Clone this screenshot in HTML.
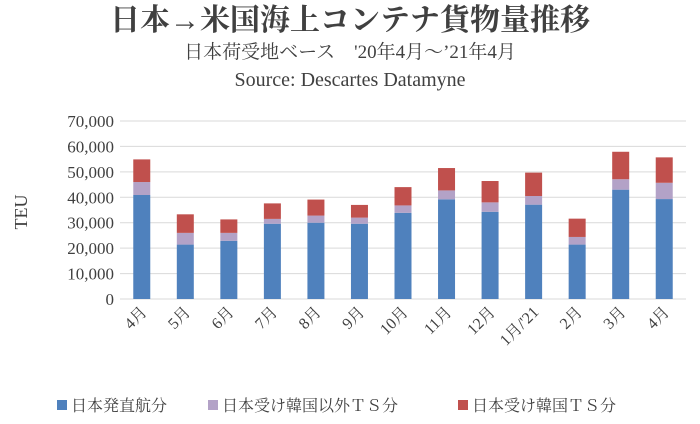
<!DOCTYPE html>
<html><head><meta charset="utf-8"><style>
body{margin:0;background:#fff;width:700px;height:419px;overflow:hidden}
text{font-family:"Liberation Serif","Noto Serif CJK SC",serif;fill:#404040}
</style></head><body>
<svg id="c" width="700" height="419">
<text x="350" y="30" text-anchor="middle" font-size="30" font-weight="bold" style="fill:#404040">日本→米国海上コンテナ貨物量推移</text>
<text x="350" y="58" text-anchor="middle" font-size="19">日本荷受地ベース　'20年4月～’21年4月</text>
<text x="350" y="86" text-anchor="middle" font-size="20">Source: Descartes Datamyne</text>
<text transform="translate(27,212) rotate(-90)" text-anchor="middle" font-size="18">TEU</text>
<g id="grid"></g><g id="bars"></g><g id="xl"></g>
<g>
<rect x="57" y="400" width="10" height="10" fill="#4f81bd"/>
<text x="71" y="411" font-size="16">日本発直航分</text>
<rect x="208" y="400" width="10" height="10" fill="#b3a2c7"/>
<text x="222" y="411" font-size="16">日本受け韓国以外ＴＳ分</text>
<rect x="458" y="400" width="10" height="10" fill="#c0504d"/>
<text x="472" y="411" font-size="16">日本受け韓国ＴＳ分</text>
</g>
</svg>
<script>
const categories=["4月","5月","6月","7月","8月","9月","10月","11月","12月","1月/'21","2月","3月","4月"];
const direct=[40900,21400,22900,29600,30000,29600,33900,39200,34300,37100,21400,43000,39300];
const otherTS=[5100,4600,3100,1900,2800,2400,2900,3500,3700,3400,3000,4100,6400];
const koreaTS=[8900,7300,5300,6100,6300,5000,7200,8800,8400,9200,7200,10800,10000];
const yTicks=[0,10000,20000,30000,40000,50000,60000,70000];
const NS="http://www.w3.org/2000/svg";
const x0=120,x1=686,y0=299,y1=121,yMax=70000;
const y=v=>y0-(v/yMax)*(y0-y1);
const bw=(x1-x0)/categories.length;
const xc=i=>x0+bw*(i+0.5);
function mk(t,a,p){const e=document.createElementNS(NS,t);for(const k in a)e.setAttribute(k,a[k]);p.appendChild(e);return e;}
const g=document.getElementById('grid');
yTicks.forEach(v=>{
 const l=mk('line',{x1:x0,x2:x1,y1:y(v),y2:y(v),stroke:'#d9d9d9','stroke-width':1},g);
 
 
 const t=mk('text',{x:114,y:y(v)+6,'text-anchor':'end','font-size':17},g);
 t.textContent=v.toLocaleString('en-US');
 
 
});
const b=document.getElementById('bars'),xl=document.getElementById('xl');
const series=[[direct,'#4f81bd','direct'],[otherTS,'#b3a2c7','non-korea-ts'],[koreaTS,'#c0504d','korea-ts']];
categories.forEach((c,i)=>{
 let base=0;
 series.forEach(([arr,col,nm])=>{
  const v=arr[i];
  const r=mk('rect',{x:xc(i)-8.5,width:17,y:y(base+v),height:y(base)-y(base+v),fill:col},b);
  
  
  base+=v;
 });
 const t=mk('text',{transform:`translate(${xc(i)+6},${313}) rotate(-45)`,'text-anchor':'end','font-size':16},xl);
 t.textContent=c;
 
 
});
</script>
</body></html>
